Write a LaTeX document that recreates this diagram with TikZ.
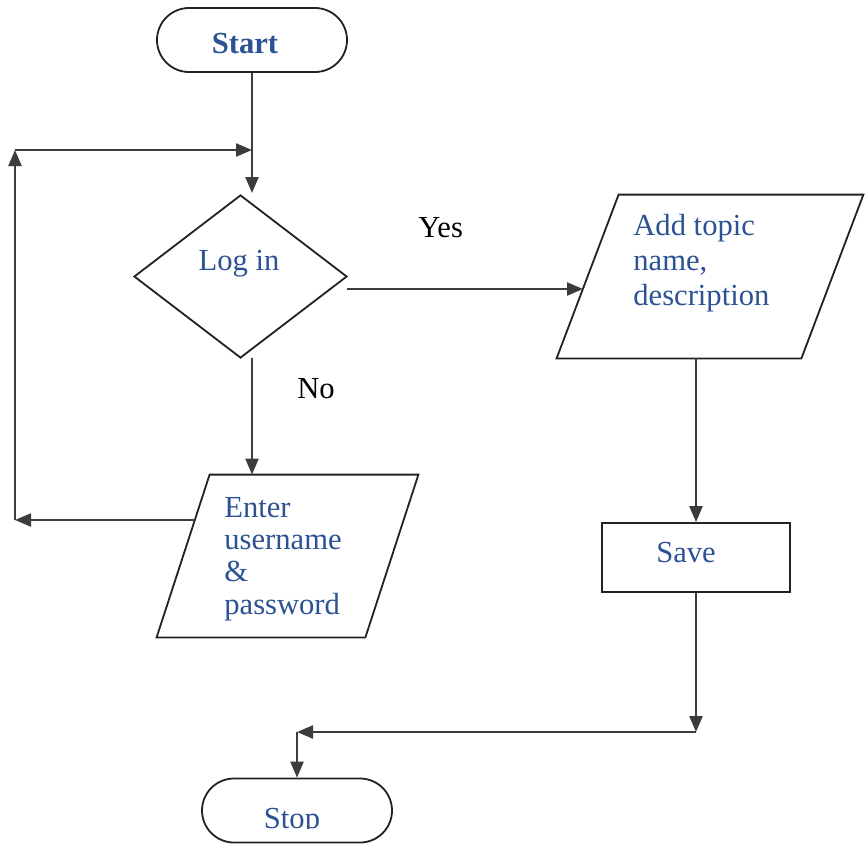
\documentclass[tikz,border=0pt]{standalone}
\usepackage{fontspec}
\setmainfont{Liberation Serif}
\usetikzlibrary{shapes.misc,shapes.geometric,arrows.meta,calc}
\definecolor{inkblue}{RGB}{44,82,148}
\definecolor{edgeink}{RGB}{34,34,34}
\definecolor{wireink}{RGB}{60,60,60}
\begin{document}
\begin{tikzpicture}[x=0.5pt,y=-0.5pt,
  terminal/.style={draw=edgeink, line width=0.9pt, rounded rectangle, minimum width=95pt, minimum height=32pt, inner sep=0pt},
  decision/.style={draw=edgeink, line width=0.9pt, diamond, minimum width=106.5pt, minimum height=81.5pt, inner sep=0pt},
  process/.style={draw=edgeink, line width=0.9pt, rectangle, minimum width=94pt, minimum height=34.5pt, inner sep=0pt},
  iofield/.style={rectangle, inner sep=0pt},
  iooutline/.style={draw=edgeink, line width=0.9pt, line join=miter},
  boxtext/.style={font=\fontsize{15.3pt}{17.5pt}\selectfont, text=inkblue, inner sep=0pt},
  answer/.style={font=\fontsize{15.3pt}{17.5pt}\selectfont, text=black, inner sep=0pt, anchor=base west},
  flow/.style={draw=wireink, line width=1.15pt, -{Triangle[length=8pt,width=6.5pt]}},
]
\useasboundingbox (0,0) rectangle (868,843);
\fill[white] (0,0) rectangle (868,843);

% start / stop terminals
\node[terminal] (start) at (252,40) {};
\node[boxtext, anchor=base, font=\fontsize{15.3pt}{17.5pt}\selectfont\bfseries] (starttext) at (245,53) {Start};
\node[terminal] (stop) at (297,810.5) {};
\begin{scope}
  \clip (0,0) rectangle (868,828);
  \node[boxtext, anchor=base] (stoptext) at (292,828) {Stop};
\end{scope}

% decision
\node[decision] (login) at (240.5,276.5) {};
\node[boxtext, anchor=base] (logintext) at (239,270) {Log in};

% input: topic (text anchored on the baseline of its last line)
\node[iofield, minimum width=153pt, minimum height=81.5pt] (topic) at (710,276.5) {};
\draw[iooutline] ($(topic.north west)+(62,0)$) -- (topic.north east)
  -- ($(topic.south east)-(62,0)$) -- (topic.south west) -- cycle;
\node[boxtext, anchor=base west, align=left] (topictext) at (633,305) {Add topic\\name,\\description};

% input: credentials
\node[iofield, minimum width=130.5pt, minimum height=81pt] (enter) at (287.5,556) {};
\draw[iooutline] ($(enter.north west)+(53,0)$) -- (enter.north east)
  -- ($(enter.south east)-(53,0)$) -- (enter.south west) -- cycle;
\node[boxtext, anchor=base west, align=left, font=\fontsize{15.3pt}{16.15pt}\selectfont] (entertext) at (224,614) {Enter\\username\\\&\\password};

% process
\node[process] (save) at (696,557.5) {};
\node[boxtext, anchor=base] (savetext) at (686,562) {Save};

% branch labels
\node[answer] (yes) at (418,237) {Yes};
\node[answer] (no) at (297,398) {No};

% connector end points
\coordinate (loginin) at (252,193);
\coordinate (loopjoin) at (252,150);
\coordinate (loopcorner) at (15,150);
\coordinate (loopbottom) at (15,520);
\coordinate (enterout) at (195,520);
\coordinate (yesout) at (347,289);
\coordinate (topicin) at (583,289);
\coordinate (loginout) at (252,358);
\coordinate (mergeR) at (save.south |- 0,732);
\coordinate (mergeL) at (stop.north |- 0,732);

% connectors
\draw[flow] (start.south) -- (loginin);
\draw[flow] (enterout) -- (loopbottom);
\draw[flow] (loopbottom) -- (loopcorner);
\draw[flow] (loopcorner) -- (loopjoin);
\draw[flow] (yesout) -- (topicin);
\draw[flow] (loginout) -- (loginout |- enter.north);
\draw[flow] (save.north |- topic.south) -- (save.north);
\draw[flow] (save.south) -- (mergeR);
\draw[flow] (mergeR) -- (mergeL);
\draw[flow] (mergeL) -- (stop.north);
\end{tikzpicture}
\end{document}
